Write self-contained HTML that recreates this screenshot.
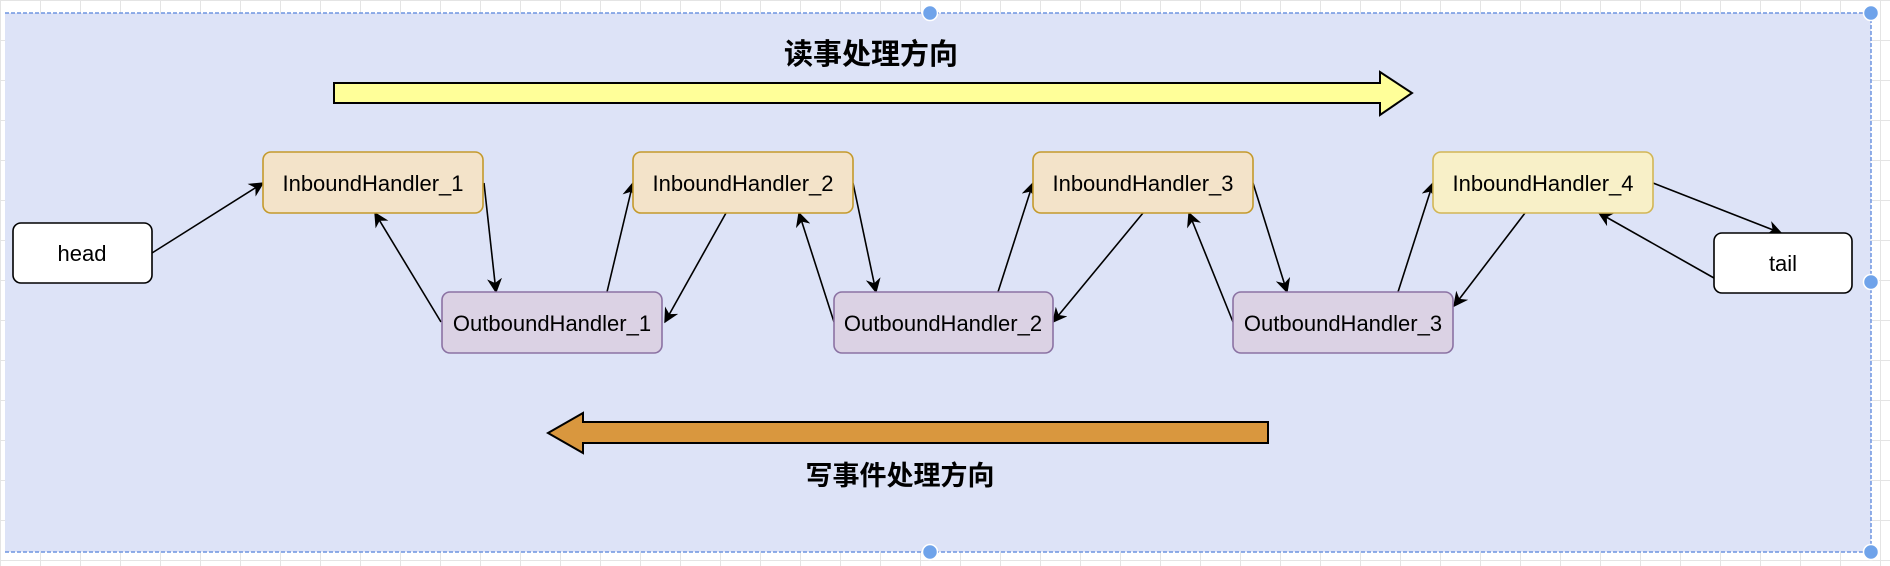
<!DOCTYPE html>
<html><head><meta charset="utf-8"><style>
html,body{margin:0;padding:0;background:#fff;}
svg{display:block;}
text{font-family:"Liberation Sans","Noto Sans CJK SC",sans-serif;}
</style></head><body>
<svg width="1890" height="566" viewBox="0 0 1890 566" xmlns="http://www.w3.org/2000/svg">
<defs>
<marker id="a" viewBox="0 0 10 10" refX="9" refY="5" markerWidth="15" markerHeight="15" markerUnits="userSpaceOnUse" orient="auto">
<path d="M0,0 L10,5 L0,10 L3,5 Z" fill="#000"/>
</marker>
<pattern id="g" width="40" height="40" patternUnits="userSpaceOnUse">
<path d="M0.5,0 V40 M0,0.5 H40" stroke="#e4e4e4" stroke-width="1" fill="none"/>
</pattern>
</defs>
<rect width="1890" height="566" fill="url(#g)"/>
<rect x="5" y="13" width="1866" height="539" fill="#dde3f7"/>
<line x1="5" y1="13" x2="1871" y2="13" stroke="#6f95e0" stroke-width="1.5" stroke-dasharray="4,2"/>
<line x1="5" y1="552" x2="1871" y2="552" stroke="#6f95e0" stroke-width="1.5" stroke-dasharray="4,2"/>
<line x1="1871" y1="13" x2="1871" y2="552" stroke="#6f95e0" stroke-width="1.5" stroke-dasharray="4,2"/>

<text x="871" y="64" font-size="29" font-weight="bold" text-anchor="middle">读事处理方向</text>
<polygon points="334,83 1380,83 1380,72 1412,93 1380,115 1380,103 334,103" fill="#ffff99" stroke="#000" stroke-width="2"/>
<polygon points="1268,422 583,422 583,413 548,433 583,453 583,443 1268,443" fill="#d9973e" stroke="#000" stroke-width="2"/>
<text x="900" y="485" font-size="27" font-weight="bold" text-anchor="middle">写事件处理方向</text>

<g stroke="#000" stroke-width="1.6" fill="none" marker-end="url(#a)">
<line x1="152" y1="253" x2="263" y2="183"/>
<line x1="484" y1="183" x2="496" y2="292"/>
<line x1="441" y1="322" x2="375" y2="213"/>
<line x1="607" y1="292" x2="633" y2="183"/>
<line x1="726" y1="213" x2="665" y2="322"/>
<line x1="853" y1="183" x2="876" y2="292"/>
<line x1="834" y1="322" x2="799" y2="213"/>
<line x1="998" y1="292" x2="1033" y2="183"/>
<line x1="1143" y1="213" x2="1053" y2="322"/>
<line x1="1253" y1="183" x2="1287" y2="292"/>
<line x1="1233" y1="322" x2="1189" y2="213"/>
<line x1="1398" y1="292" x2="1433" y2="183"/>
<line x1="1525" y1="213" x2="1454" y2="306"/>
<line x1="1653" y1="183" x2="1781" y2="233"/>
<line x1="1714" y1="278" x2="1599" y2="213"/>
</g>

<g font-size="22" text-anchor="middle">
<rect x="13" y="223" width="139" height="60" rx="8" fill="#fff" stroke="#000" stroke-width="1.6"/>
<text x="82" y="261">head</text>
<rect x="1714" y="233" width="138" height="60" rx="8" fill="#fff" stroke="#000" stroke-width="1.6"/>
<text x="1783" y="271">tail</text>

<rect x="263" y="152" width="220" height="61" rx="8" fill="#f3e3c9" stroke="#c49a2c" stroke-width="1.6"/>
<text x="373" y="191">InboundHandler_1</text>
<rect x="633" y="152" width="220" height="61" rx="8" fill="#f3e3c9" stroke="#c49a2c" stroke-width="1.6"/>
<text x="743" y="191">InboundHandler_2</text>
<rect x="1033" y="152" width="220" height="61" rx="8" fill="#f3e3c9" stroke="#c49a2c" stroke-width="1.6"/>
<text x="1143" y="191">InboundHandler_3</text>
<rect x="1433" y="152" width="220" height="61" rx="8" fill="#f8f0c8" stroke="#d2b656" stroke-width="1.6"/>
<text x="1543" y="191">InboundHandler_4</text>

<rect x="442" y="292" width="220" height="61" rx="8" fill="#dbd2e4" stroke="#8b72a3" stroke-width="1.6"/>
<text x="552" y="331">OutboundHandler_1</text>
<rect x="834" y="292" width="219" height="61" rx="8" fill="#dbd2e4" stroke="#8b72a3" stroke-width="1.6"/>
<text x="943" y="331">OutboundHandler_2</text>
<rect x="1233" y="292" width="220" height="61" rx="8" fill="#dbd2e4" stroke="#8b72a3" stroke-width="1.6"/>
<text x="1343" y="331">OutboundHandler_3</text>
</g>

<g fill="#6fa3ea" stroke="#fff" stroke-width="1.5">
<circle cx="930" cy="13" r="7.5"/>
<circle cx="930" cy="552" r="7.5"/>
<circle cx="1871" cy="13" r="7.5"/>
<circle cx="1871" cy="282" r="7.5"/>
<circle cx="1871" cy="552" r="7.5"/>
</g>
</svg>
</body></html>
